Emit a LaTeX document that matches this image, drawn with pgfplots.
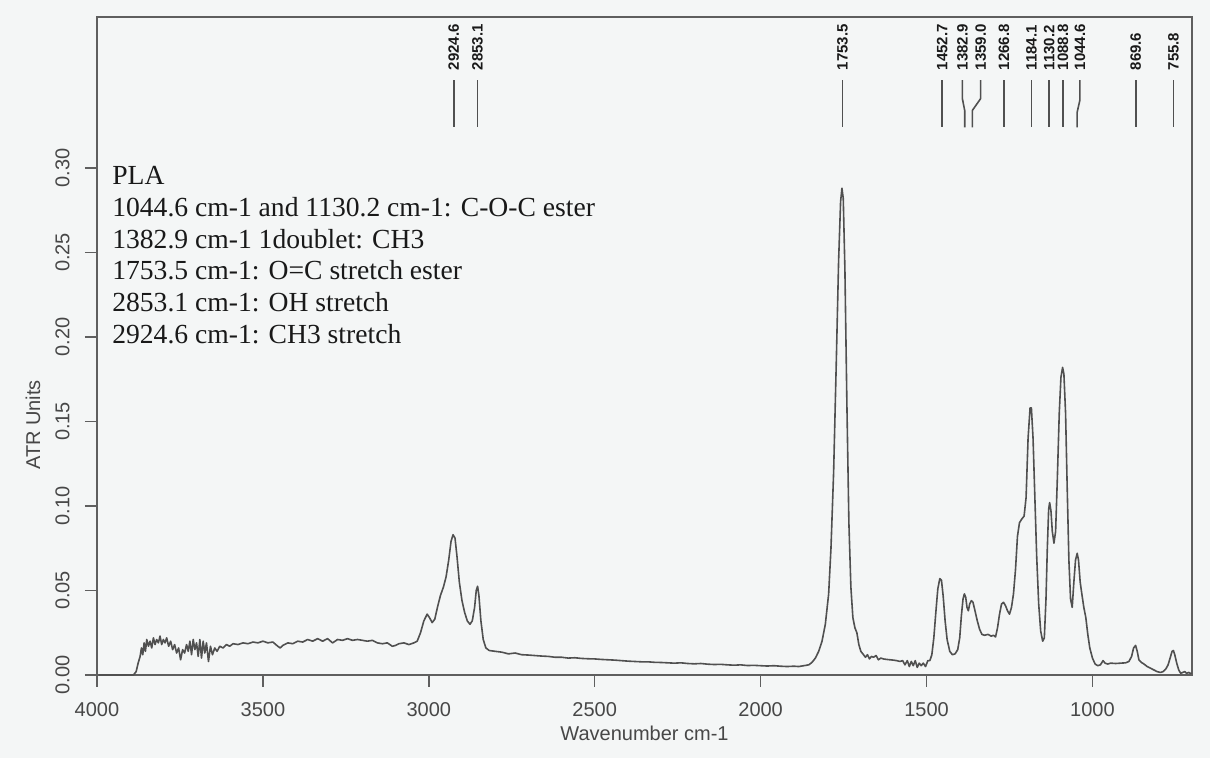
\documentclass[border=0pt]{standalone}
\usepackage{fontspec}
\setmainfont{Liberation Serif}
\setsansfont{Liberation Sans}
\usepackage{pgfplots}
\usepackage{pgfplotstable}
\pgfplotsset{compat=1.18}

\definecolor{paper}{RGB}{244,246,246}
\definecolor{ink}{RGB}{80,80,80}
\definecolor{frame}{RGB}{95,95,95}
\definecolor{txt}{RGB}{25,25,25}

% PLA ATR spectrum
\pgfplotstableread{
wn A
3995 0.000
3890 0.000
3882 0.002
3876 0.007
3870 0.011
3866 0.016
3862 0.012
3858 0.019
3854 0.014
3850 0.021
3845 0.017
3840 0.020
3835 0.016
3830 0.022
3825 0.018
3820 0.021
3815 0.019
3810 0.023
3805 0.018
3800 0.021
3795 0.019
3790 0.022
3784 0.017
3778 0.020
3772 0.015
3766 0.018
3760 0.013
3754 0.016
3748 0.009
3742 0.015
3736 0.013
3730 0.018
3725 0.014
3720 0.020
3715 0.012
3710 0.021
3705 0.015
3700 0.019
3695 0.011
3690 0.021
3685 0.010
3680 0.020
3675 0.013
3670 0.019
3664 0.008
3658 0.017
3652 0.012
3645 0.016
3638 0.014
3630 0.017
3620 0.016
3610 0.018
3600 0.017
3590 0.0185
3575 0.018
3560 0.019
3545 0.0185
3530 0.0195
3515 0.019
3500 0.020
3485 0.019
3470 0.0195
3455 0.017
3448 0.016
3440 0.0175
3425 0.019
3410 0.0185
3395 0.020
3380 0.0195
3365 0.021
3350 0.020
3335 0.0215
3320 0.020
3305 0.0215
3290 0.019
3275 0.021
3260 0.0205
3245 0.0215
3230 0.0205
3215 0.021
3200 0.0205
3185 0.020
3170 0.0205
3155 0.019
3140 0.0185
3125 0.019
3110 0.017
3100 0.0175
3090 0.0185
3075 0.019
3060 0.018
3045 0.019
3035 0.020
3025 0.025
3015 0.032
3005 0.036
2998 0.034
2990 0.031
2982 0.033
2974 0.040
2965 0.047
2956 0.052
2948 0.058
2940 0.068
2933 0.079
2927 0.083
2921 0.081
2915 0.070
2908 0.055
2900 0.044
2892 0.037
2884 0.032
2876 0.030
2869 0.032
2862 0.040
2857 0.050
2853 0.0525
2849 0.047
2843 0.032
2836 0.021
2828 0.016
2818 0.0145
2800 0.014
2780 0.0135
2760 0.0125
2740 0.013
2720 0.012
2700 0.0118
2680 0.0115
2660 0.0112
2640 0.011
2620 0.0105
2600 0.0105
2580 0.010
2560 0.0102
2540 0.0098
2520 0.0096
2500 0.0095
2480 0.0092
2460 0.009
2440 0.0088
2420 0.0085
2400 0.0082
2380 0.008
2360 0.0078
2340 0.0078
2320 0.0075
2300 0.0074
2280 0.0072
2260 0.007
2240 0.0072
2220 0.0068
2200 0.0066
2180 0.0068
2160 0.0064
2140 0.0062
2120 0.0063
2100 0.006
2080 0.0058
2060 0.006
2040 0.0056
2020 0.0057
2000 0.0055
1980 0.0053
1960 0.0055
1940 0.0052
1920 0.005
1900 0.0052
1885 0.005
1870 0.0055
1855 0.006
1845 0.0075
1835 0.010
1825 0.014
1815 0.020
1805 0.030
1795 0.048
1788 0.075
1780 0.120
1772 0.185
1765 0.245
1759 0.280
1755 0.288
1751 0.282
1746 0.240
1740 0.160
1734 0.090
1728 0.052
1722 0.034
1716 0.028
1710 0.025
1704 0.018
1698 0.014
1690 0.012
1684 0.0105
1678 0.012
1672 0.0095
1666 0.011
1660 0.0105
1652 0.0115
1645 0.009
1638 0.010
1630 0.0095
1620 0.0092
1610 0.009
1600 0.0088
1590 0.0085
1580 0.008
1572 0.0085
1565 0.006
1558 0.0085
1552 0.005
1546 0.008
1540 0.0055
1534 0.0085
1528 0.0045
1522 0.007
1516 0.0055
1510 0.007
1503 0.005
1496 0.0085
1490 0.0085
1484 0.012
1478 0.022
1472 0.037
1466 0.051
1460 0.057
1455 0.056
1450 0.047
1444 0.032
1438 0.021
1430 0.014
1422 0.012
1414 0.0125
1406 0.015
1400 0.022
1395 0.035
1390 0.045
1386 0.048
1382 0.046
1378 0.040
1374 0.038
1370 0.042
1365 0.044
1360 0.043
1354 0.038
1347 0.032
1340 0.027
1333 0.024
1325 0.0235
1315 0.024
1305 0.023
1298 0.0235
1292 0.0225
1286 0.028
1280 0.036
1274 0.042
1268 0.043
1262 0.041
1256 0.038
1250 0.036
1244 0.040
1238 0.048
1232 0.062
1226 0.082
1220 0.090
1214 0.092
1206 0.094
1200 0.105
1194 0.140
1188 0.158
1184 0.158
1179 0.140
1174 0.108
1168 0.070
1162 0.042
1156 0.026
1150 0.020
1145 0.022
1140 0.045
1136 0.075
1132 0.098
1129 0.102
1125 0.097
1121 0.085
1116 0.078
1111 0.085
1106 0.115
1100 0.155
1095 0.176
1090 0.182
1086 0.178
1081 0.155
1076 0.110
1071 0.068
1066 0.045
1061 0.040
1056 0.055
1051 0.068
1046 0.072
1042 0.068
1037 0.055
1032 0.048
1026 0.040
1020 0.034
1014 0.024
1008 0.016
1000 0.010
992 0.0065
984 0.0055
976 0.006
968 0.0085
962 0.007
954 0.0065
945 0.0070
930 0.0068
915 0.007
900 0.0072
890 0.008
882 0.011
876 0.016
870 0.0175
865 0.014
860 0.009
853 0.0075
845 0.0065
835 0.005
825 0.004
815 0.003
805 0.002
795 0.0015
787 0.002
779 0.0035
772 0.006
766 0.010
760 0.014
756 0.0145
752 0.012
746 0.007
740 0.003
734 0.001
728 0.0015
722 0.002
716 0.001
710 0.0015
705 0.001
700 0.001
}\spectrum

\begin{document}
\begin{tikzpicture}
\fill[paper] (0,0) rectangle (605pt,379pt);
\path[use as bounding box] (0,0) rectangle (605pt,379pt);
\begin{axis}[
  at={(48.5pt,41.5pt)}, anchor=south west,
  scale only axis, width=547.5pt, height=329pt,
  x dir=reverse, xmin=700, xmax=4000, ymin=0, ymax=0.3893,
  xtick={1000,1500,2000,2500,3000,3500,4000},
  ytick={0,0.05,0.1,0.15,0.2,0.25,0.3},
  scaled y ticks=false,
  tick align=outside, tick pos=left, major tick length=6pt,
  axis line style={frame, line width=0.75pt},
  every tick/.style={frame, line width=0.75pt},
  /pgf/number format/assume math mode=true,
  ticklabel style={font=\sffamily\fontsize{10}{12}\selectfont, text=txt!80},
  x tick label style={/pgf/number format/1000 sep={}},
  y tick label style={rotate=90, anchor=south,
    /pgf/number format/.cd, fixed, fixed zerofill, precision=2},
  xticklabel shift=4.2pt, yticklabel shift=4.2pt,
  xlabel={Wavenumber cm-1}, ylabel={ATR Units},
  label style={font=\sffamily\fontsize{10}{12}\selectfont, text=txt!80},
  xlabel style={at={(axis description cs:0.5,-0.0988)}, anchor=base},
  ylabel style={at={(axis description cs:-0.052,0.38)}, anchor=base},
  clip=false,
]
\addplot[ink, line width=0.8pt, line join=round] table[x=wn, y=A] {\spectrum};

% peak labels along the top
\tikzset{pk/.style={rotate=90, anchor=west, inner sep=0pt, text=txt,
  font=\sffamily\bfseries\fontsize{7.5}{9}\selectfont},
  pl/.style={ink, line width=0.8pt}}
\draw[pl] (axis cs:2924.6,0.352) -- (axis cs:2924.6,0.324);
\node[pk] at (axis cs:2924.6,0.3575) {2924.6};
\draw[pl] (axis cs:2853.1,0.352) -- (axis cs:2853.1,0.324);
\node[pk] at (axis cs:2853.1,0.3575) {2853.1};
\draw[pl] (axis cs:1753.5,0.352) -- (axis cs:1753.5,0.324);
\node[pk] at (axis cs:1753.5,0.3575) {1753.5};
\draw[pl] (axis cs:1452.7,0.352) -- (axis cs:1452.7,0.324);
\node[pk] at (axis cs:1452.7,0.3575) {1452.7};
\draw[pl] (axis cs:1392,0.352) -- (axis cs:1392,0.341) -- (axis cs:1385,0.334) -- (axis cs:1385,0.324);
\node[pk] at (axis cs:1392,0.3575) {1382.9};
\draw[pl] (axis cs:1337,0.352) -- (axis cs:1337,0.341) -- (axis cs:1362,0.334) -- (axis cs:1362,0.324);
\node[pk] at (axis cs:1337,0.3575) {1359.0};
\draw[pl] (axis cs:1266.8,0.352) -- (axis cs:1266.8,0.324);
\node[pk] at (axis cs:1266.8,0.3575) {1266.8};
\draw[pl] (axis cs:1184.1,0.352) -- (axis cs:1184.1,0.324);
\node[pk] at (axis cs:1184.1,0.3575) {1184.1};
\draw[pl] (axis cs:1130.2,0.352) -- (axis cs:1130.2,0.324);
\node[pk] at (axis cs:1130.2,0.3575) {1130.2};
\draw[pl] (axis cs:1088.8,0.352) -- (axis cs:1088.8,0.324);
\node[pk] at (axis cs:1088.8,0.3575) {1088.8};
\draw[pl] (axis cs:1038,0.352) -- (axis cs:1038,0.340) -- (axis cs:1046,0.333) -- (axis cs:1046,0.324);
\node[pk] at (axis cs:1038,0.3575) {1044.6};
\draw[pl] (axis cs:869.6,0.352) -- (axis cs:869.6,0.324);
\node[pk] at (axis cs:869.6,0.3575) {869.6};
\draw[pl] (axis cs:755.8,0.352) -- (axis cs:755.8,0.324);
\node[pk] at (axis cs:755.8,0.3575) {755.8};

% assignment notes
\tikzset{nt/.style={anchor=base west, inner sep=0pt, text=txt,
  font=\fontsize{13.8}{16}\selectfont}}
\node[nt] at (axis cs:3955,0.2899) {PLA};
\node[nt] at (axis cs:3955,0.2712) {1044.6 cm-1 and 1130.2 cm-1: C-O-C ester};
\node[nt] at (axis cs:3955,0.2525) {1382.9 cm-1 1doublet: CH3};
\node[nt] at (axis cs:3955,0.2338) {1753.5 cm-1: O=C stretch ester};
\node[nt] at (axis cs:3955,0.2151) {2853.1 cm-1: OH stretch};
\node[nt] at (axis cs:3955,0.1964) {2924.6 cm-1: CH3 stretch};
\end{axis}
\end{tikzpicture}
\end{document}
